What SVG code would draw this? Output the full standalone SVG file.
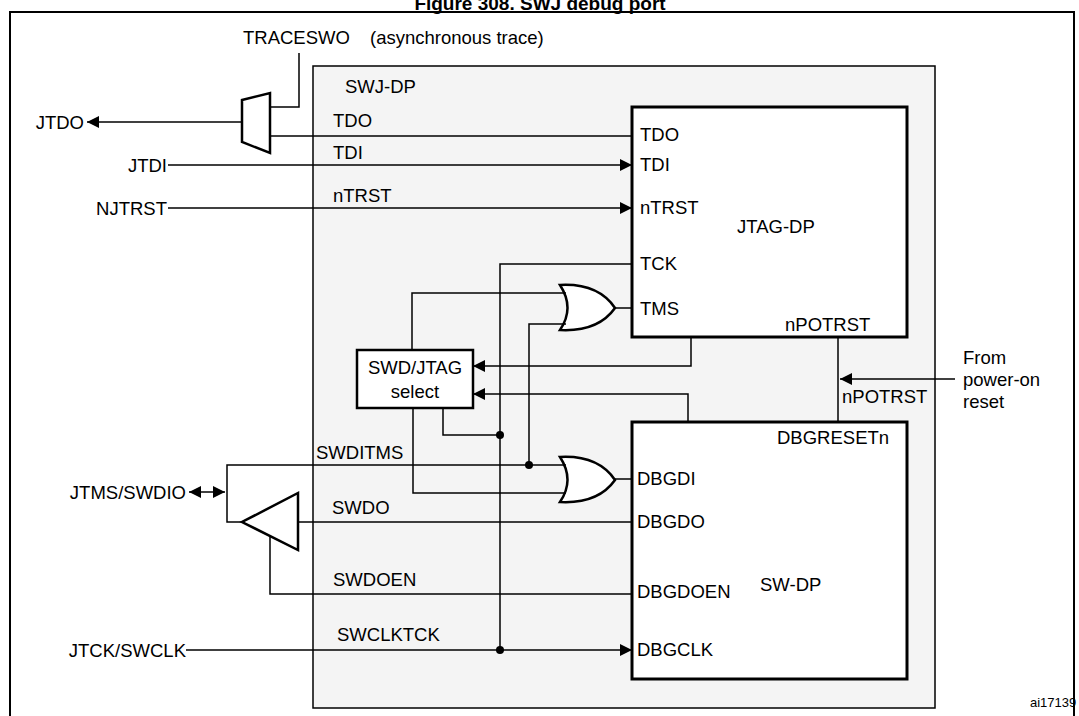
<svg xmlns="http://www.w3.org/2000/svg" width="1079" height="716" viewBox="0 0 1079 716">
<defs>
<style>
text{font-family:"Liberation Sans",Arial,sans-serif;font-size:18.5px;fill:#000}
.w{fill:none;stroke:#000;stroke-width:1.5}
.box{fill:#fff;stroke:#000;stroke-width:3}
.r{text-anchor:end}
</style>
<marker id="a" viewBox="0 0 10 10" refX="10" refY="5" markerWidth="12" markerHeight="12" orient="auto-start-reverse" markerUnits="userSpaceOnUse"><path d="M0,0L10,5L0,10z" fill="#000"/></marker>
</defs>
<rect width="1079" height="716" fill="#fff"/>
<text x="540" y="10" text-anchor="middle" style="font-weight:bold;font-size:19px">Figure 308. SWJ debug port</text>
<rect x="10" y="12" width="1064" height="720" fill="none" stroke="#000" stroke-width="2"/>
<g id="swjdp"><rect x="313" y="66" width="622" height="642" fill="#f4f4f4" stroke="#000" stroke-width="1.5"/><text x="345" y="93">SWJ-DP</text></g>
<g id="jtagdp"><rect class="box" x="632" y="107" width="275" height="230"/>
<text x="640" y="141">TDO</text><text x="640" y="171">TDI</text><text x="640" y="214">nTRST</text><text x="640" y="270">TCK</text><text x="640" y="315">TMS</text><text x="737" y="233">JTAG-DP</text><text x="785" y="331">nPOTRST</text></g>
<g id="swdp"><rect class="box" x="632" y="422" width="275" height="257"/>
<text x="777" y="444">DBGRESETn</text><text x="637" y="485">DBGDI</text><text x="637" y="528">DBGDO</text><text x="637" y="598">DBGDOEN</text><text x="637" y="656">DBGCLK</text><text x="760" y="591">SW-DP</text></g>
<g id="select"><rect x="357" y="350" width="116" height="58" fill="#fff" stroke="#000" stroke-width="2.5"/><text x="415" y="374" text-anchor="middle">SWD/JTAG</text><text x="415" y="398" text-anchor="middle">select</text></g>
<g id="or1"><path d="M560,285 Q598,283 615,308 Q598,332 560,330 Q575,308 560,285z" fill="#fff" stroke="#000" stroke-width="2.5"/></g>
<g id="or2"><path d="M560,457 Q598,455 615,480 Q598,504 560,502 Q575,480 560,457z" fill="#fff" stroke="#000" stroke-width="2.5"/></g>
<g id="mux"><path d="M242,100 L270,93 L270,153 L242,142z" fill="#fff" stroke="#000" stroke-width="2.5"/></g>
<g id="buf"><path d="M298,493 L298,550 L242,522z" fill="#fff" stroke="#000" stroke-width="2.5"/></g>
<g id="connectors" class="w">
<polyline points="299,53 299,107 270,107"/>
<line x1="242" y1="122" x2="87" y2="122" marker-end="url(#a)"/>
<line x1="270" y1="136" x2="632" y2="136"/>
<line x1="168" y1="165" x2="632" y2="165" marker-end="url(#a)"/>
<line x1="168" y1="208" x2="632" y2="208" marker-end="url(#a)"/>
<polyline points="632,264 500,264 500,650"/>
<line x1="615" y1="308" x2="632" y2="308"/>
<polyline points="566,293 412,293 412,350"/>
<polyline points="566,324 529,324 529,465"/>
<polyline points="691,337 691,366 473,366" marker-end="url(#a)"/>
<polyline points="688,422 688,394 473,394" marker-end="url(#a)"/>
<line x1="838" y1="337" x2="838" y2="422"/>
<line x1="955" y1="379" x2="840" y2="379" marker-end="url(#a)"/>
<polyline points="443,408 443,435 500,435"/>
<polyline points="413,408 413,493 566,493"/>
<line x1="615" y1="479" x2="632" y2="479"/>
<polyline points="566,465 227,465 227,522 242,522"/>
<line x1="298" y1="522" x2="632" y2="522"/>
<polyline points="270,536 270,594 632,594"/>
<line x1="186" y1="650" x2="632" y2="650" marker-end="url(#a)"/>
<line x1="189" y1="492" x2="225" y2="492" marker-start="url(#a)" marker-end="url(#a)"/>
</g>
<g id="dots"><circle cx="500" cy="435" r="4"/><circle cx="529" cy="465" r="4"/><circle cx="500" cy="650" r="4"/></g>
<g id="labels">
<text x="243" y="44">TRACESWO</text><text x="370" y="44">(asynchronous trace)</text>
<text x="333" y="127">TDO</text><text x="333" y="159">TDI</text><text x="333" y="202">nTRST</text>
<text class="r" x="84" y="129">JTDO</text><text class="r" x="167" y="172">JTDI</text><text class="r" x="167" y="215">NJTRST</text>
<text class="r" x="186" y="499">JTMS/SWDIO</text><text class="r" x="186" y="657">JTCK/SWCLK</text>
<text x="316" y="459">SWDITMS</text><text x="332" y="514">SWDO</text><text x="333" y="586">SWDOEN</text><text x="337" y="641">SWCLKTCK</text>
<text x="842" y="403">nPOTRST</text>
<text x="963" y="364">From</text><text x="963" y="386">power-on</text><text x="963" y="408">reset</text>
<text x="1030" y="707" style="font-size:13px">ai17139</text>
</g>
</svg>
